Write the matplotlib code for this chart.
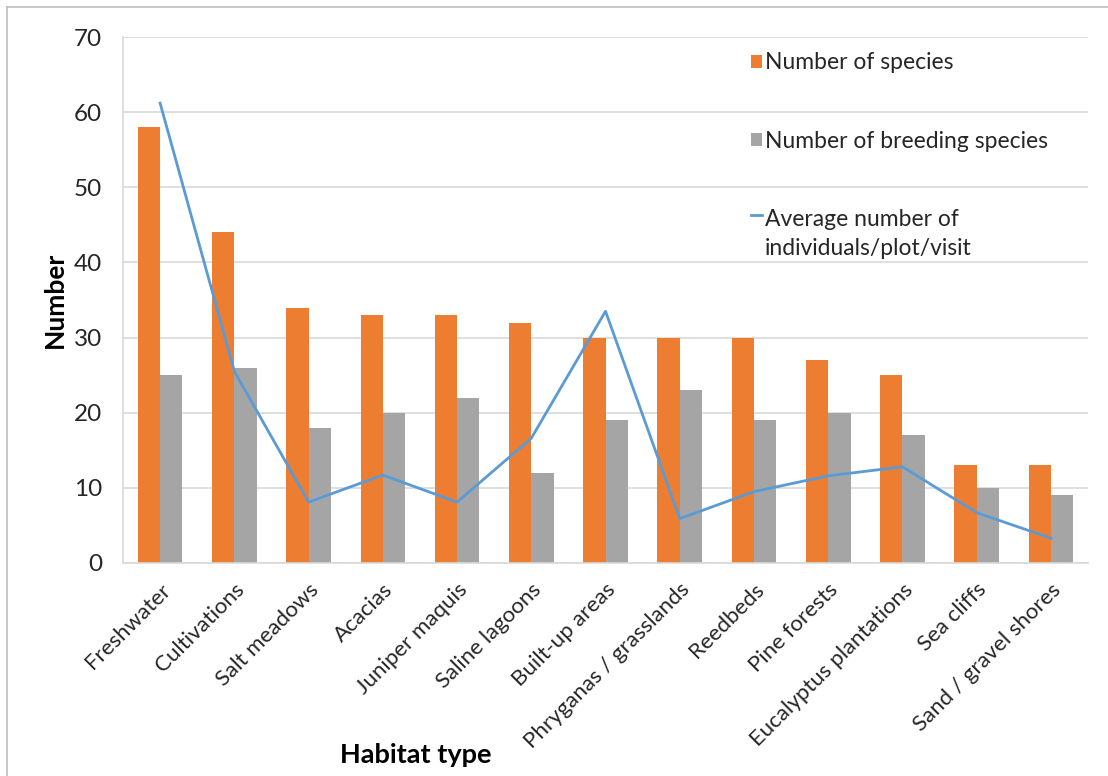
import matplotlib
matplotlib.use("Agg")
import matplotlib.pyplot as plt
import numpy as np
from matplotlib.lines import Line2D
from matplotlib.legend_handler import HandlerLine2D

plt.rcParams['font.family'] = ['Lato', 'DejaVu Sans']

habitats = ["Freshwater", "Cultivations", "Salt meadows", "Acacias", "Juniper maquis",
            "Saline lagoons", "Built-up areas", "Phryganas / grasslands", "Reedbeds",
            "Pine forests", "Eucalyptus plantations", "Sea cliffs", "Sand / gravel shores"]
n_species = [58, 44, 34, 33, 33, 32, 30, 30, 30, 27, 25, 13, 13]
n_breeding = [25, 26, 18, 20, 22, 12, 19, 23, 19, 20, 17, 10, 9]
avg_individuals = [61.2, 25.5, 8.1, 11.7, 8.1, 16.6, 33.5, 5.9, 9.5, 11.6, 12.8, 6.7, 3.3]
y_ticks = [0, 10, 20, 30, 40, 50, 60, 70]

ORANGE = "#ED7D31"
GREY = "#A5A5A5"
BLUE = "#5B9BD5"
GRID = "#D9D9D9"
TEXT = "#262626"


class FirstLineHandler(HandlerLine2D):
    """Line handle raised to sit beside the first line of a two-line label."""

    def __init__(self, lift=1.2, **kw):
        super().__init__(**kw)
        self.lift = lift

    def create_artists(self, legend, orig_handle, xdescent, ydescent,
                       width, height, fontsize, trans):
        artists = super().create_artists(legend, orig_handle, xdescent, ydescent,
                                         width, height, fontsize, trans)
        for a in artists:
            if isinstance(a, Line2D):
                a.set_ydata(np.asarray(a.get_ydata()) + self.lift * fontsize)
        return artists


fig = plt.figure(figsize=(11.08, 7.76), dpi=100)
ax = fig.add_axes([0.111, 0.2745, 0.871, 0.6778])

x = np.arange(len(habitats))
w = 0.3
b1 = ax.bar(x - w / 2, n_species, width=w, color=ORANGE, label="Number of species", zorder=2)
b2 = ax.bar(x + w / 2, n_breeding, width=w, color=GREY, label="Number of breeding species", zorder=2)
ln, = ax.plot(x, avg_individuals, color=BLUE, linewidth=2.0, zorder=3,
              label="Average number of\nindividuals/plot/visit")

ax.set_xlim(-0.5, len(habitats) - 0.5)
ax.set_ylim(0, 70)
ax.set_yticks(y_ticks)
ax.yaxis.grid(True, color=GRID, linewidth=1.2, zorder=0)
ax.set_axisbelow(True)
for side in ("top", "right"):
    ax.spines[side].set_visible(False)
for side in ("left", "bottom"):
    ax.spines[side].set_color(GRID)
    ax.spines[side].set_linewidth(1.2)
ax.tick_params(axis="both", length=0, labelsize=16, colors=TEXT)
ax.tick_params(axis="y", pad=15, labelsize=17.5)

ax.set_xticks(x)
ax.set_xticklabels(habitats, rotation=45, ha="right", rotation_mode="anchor")
ax.tick_params(axis="x", pad=12)

ax.set_ylabel("Number", fontsize=19, fontweight="bold", color="black", labelpad=5)
fig.text(0.375, 0.027, "Habitat type", fontsize=19.5, fontweight="bold", color="black",
         ha="center", va="center")

leg = ax.legend([b1, b2, ln], [b1.get_label(), b2.get_label(), ln.get_label()],
                handler_map={ln: FirstLineHandler(lift=0.85)},
                loc="upper left", bbox_to_anchor=(0.629, 1.01), frameon=False,
                fontsize=16.5, handlelength=0.5, handleheight=0.5, handletextpad=0.12,
                labelspacing=2.5, labelcolor=TEXT)
leg.get_texts()[2].set_linespacing(1.45)

# chart border on the left and top edges
fig.add_artist(Line2D([0.0063, 0.0063], [0, 0.991], transform=fig.transFigure,
                      color="#BFBFBF", linewidth=1.2))
fig.add_artist(Line2D([0.0063, 1.0], [0.991, 0.991], transform=fig.transFigure,
                      color="#BFBFBF", linewidth=1.2))

fig.savefig("out.png", dpi=100, facecolor="white")
